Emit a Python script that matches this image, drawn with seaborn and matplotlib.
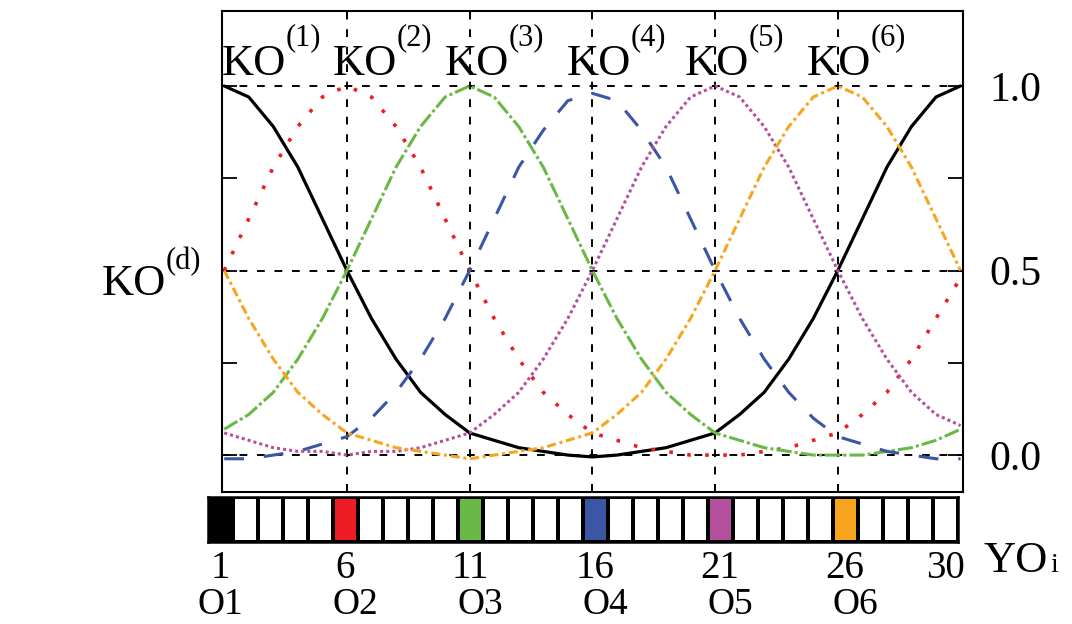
import matplotlib
matplotlib.use("Agg")
import matplotlib.pyplot as plt
import matplotlib.transforms as mtrans
from matplotlib.colors import ListedColormap
import seaborn as sns
import pandas as pd
import numpy as np

# values at positions 1..31 (31 wraps back onto 1)
positions = list(range(1, 32))
ko1 = [1.00, 0.97, 0.89, 0.78, 0.64, 0.50, 0.37, 0.26, 0.17, 0.11, 0.06, 0.04, 0.02, 0.01, 0.00, -0.005,
       0.00, 0.01, 0.02, 0.04, 0.06, 0.11, 0.17, 0.26, 0.37, 0.50, 0.64, 0.78, 0.89, 0.97, 1.00]
ko2 = [0.50, 0.64, 0.78, 0.89, 0.97, 1.00, 0.97, 0.89, 0.78, 0.64, 0.50, 0.37, 0.26, 0.17, 0.11, 0.06,
       0.04, 0.02, 0.01, 0.00, 0.00, 0.00, 0.01, 0.02, 0.04, 0.06, 0.11, 0.17, 0.26, 0.37, 0.48]
ko3 = [0.07, 0.11, 0.17, 0.26, 0.37, 0.50, 0.64, 0.78, 0.89, 0.97, 1.00, 0.97, 0.89, 0.78, 0.64, 0.50,
       0.37, 0.26, 0.17, 0.11, 0.06, 0.04, 0.02, 0.01, 0.00, 0.00, 0.00, 0.01, 0.02, 0.04, 0.07]
ko4 = [-0.01, -0.01, 0.00, 0.01, 0.03, 0.05, 0.10, 0.17, 0.26, 0.37, 0.50, 0.64, 0.78, 0.88, 0.96, 0.98,
       0.96, 0.88, 0.78, 0.64, 0.50, 0.37, 0.26, 0.17, 0.10, 0.05, 0.03, 0.01, 0.00, -0.01, -0.01]
ko5 = [0.06, 0.04, 0.02, 0.01, 0.01, 0.00, 0.01, 0.01, 0.02, 0.04, 0.06, 0.11, 0.17, 0.26, 0.37, 0.50,
       0.64, 0.78, 0.89, 0.97, 1.00, 0.97, 0.89, 0.78, 0.64, 0.50, 0.37, 0.26, 0.17, 0.11, 0.08]
ko6 = [0.50, 0.37, 0.26, 0.17, 0.11, 0.06, 0.04, 0.02, 0.01, 0.00, -0.01, 0.00, 0.01, 0.02, 0.04, 0.06,
       0.11, 0.17, 0.26, 0.37, 0.50, 0.64, 0.78, 0.89, 0.97, 1.00, 0.97, 0.89, 0.78, 0.64, 0.50]

curves = [ko1, ko2, ko3, ko4, ko5, ko6]
curve_sup = ["(1)", "(2)", "(3)", "(4)", "(5)", "(6)"]
peak_cells = [1, 6, 11, 16, 21, 26]
object_labels = ["O1", "O2", "O3", "O4", "O5", "O6"]
cell_numbers = list(range(1, 31))
cell_tick_labels = [1, 6, 11, 16, 21, 26, 30]
y_ticks = [0.0, 0.25, 0.5, 0.75, 1.0]
y_tick_labels = ["0.0", "", "0.5", "", "1.0"]

colors = ["#000000", "#ee1c24", "#6ab845", "#3a56a5", "#b5509f", "#f7a51f"]
styles = ["-", (0, (1, 4)), (0, (5, 1, 1, 1)), (0, (6.5, 6.5)), (0, (1, 1)), (0, (3, 1.2, 1, 1.2))]
widths = [2.3, 2.6, 2.2, 2.2, 2.2, 2.2]
label_dx = [0.0, 0.43, 0.0, -0.04, -0.23, -0.27]

sns.set_style("white")
plt.rcParams["font.family"] = ["Liberation Serif", "DejaVu Serif"]
plt.rcParams["text.color"] = "black"
plt.rcParams["ytick.color"] = "black"
plt.rcParams["xtick.color"] = "black"

fig = plt.figure(figsize=(10.72, 6.24), dpi=100)
ax = fig.add_axes([222 / 1072, 1 - 492 / 624, 741 / 1072, 481 / 624])

for vals, c, ls, lw in zip(curves, colors, styles, widths):
    sns.lineplot(x=positions, y=vals, color=c, linestyle=ls, linewidth=lw, ax=ax, zorder=3)

for p in peak_cells[1:]:
    ax.axvline(p, color="black", lw=1.4, dashes=(4, 5), zorder=1)
for yv in [0.0, 0.5, 1.0]:
    ax.axhline(yv, color="black", lw=1.4, dashes=(4, 5), zorder=1)

ax.set_xlim(0.91, 31.1)
ax.set_ylim(-0.10, 1.203)
ax.set_xticks(peak_cells[1:])
ax.set_xticklabels([])
ax.set_yticks(y_ticks)
ax.set_yticklabels(y_tick_labels)
ax.tick_params(axis="x", direction="in", top=True, bottom=True, length=6, width=1.3)
ax.tick_params(axis="y", direction="in", left=True, right=True, labelleft=False,
               labelright=True, length=11, width=1.3, pad=19, labelsize=30, labelcolor="black")
for s in ax.spines.values():
    s.set_linewidth(1.5)
    s.set_color("black")
ax.set_xlabel("")
ax.set_ylabel("")


def ko_label(x, y, sup, transform, rise=28):
    t = fig.text(x, y, "KO", transform=transform, fontsize=32, va="baseline", ha="left")
    a = plt.Annotation(sup, xy=(1, 0), xycoords=t, xytext=(-0.5, rise),
                       textcoords="offset points", fontsize=22, va="baseline", ha="left")
    a.set_figure(fig)
    fig.texts.append(a)


# curve labels above the plot
top = mtrans.blended_transform_factory(ax.transData, fig.transFigure)
for i, (p, sup) in enumerate(zip(peak_cells, curve_sup)):
    ko_label(max(0.92, p - 1.0 + label_dx[i]), 1 - 75 / 624, sup, top)
ko_label(102 / 1072, 1 - 295 / 624, "(d)", fig.transFigure, rise=25)

# strip of cells underneath
ax_s = fig.add_axes([208 / 1072, 1 - 542 / 624, 749.5 / 1072, 45 / 624])
codes = [peak_cells.index(c) + 1 if c in peak_cells else 0 for c in cell_numbers]
strip = pd.DataFrame([codes], columns=cell_numbers)
sns.heatmap(strip, cmap=ListedColormap(["white"] + colors), vmin=-0.5, vmax=6.5, cbar=False,
            linewidths=1.6, linecolor="black", ax=ax_s)
ax_s.set_xticks([])
ax_s.set_yticks([])
ax_s.set_xlabel("")
ax_s.set_ylabel("")
for s in ax_s.spines.values():
    s.set_visible(True)
    s.set_linewidth(1.8)
    s.set_color("black")

bot = mtrans.blended_transform_factory(ax_s.transData, fig.transFigure)
for n in cell_tick_labels:
    fig.text(n - 0.5, 1 - 578 / 624, str(n), transform=bot, fontsize=28, ha="center", va="baseline")
for i, (p, lab) in enumerate(zip(peak_cells, object_labels)):
    off = 0.0 if i == 0 else 0.4
    fig.text(p - 0.5 + off, 1 - 614 / 624, lab, transform=bot, fontsize=27, ha="center", va="baseline")

fig.text(983 / 1072, 1 - 572 / 624, "YO", fontsize=32, va="baseline", ha="left")
fig.text(1050 / 1072, 1 - 572 / 624, "i", fontsize=20, va="baseline", ha="left")

fig.savefig("out.png", dpi=100)
